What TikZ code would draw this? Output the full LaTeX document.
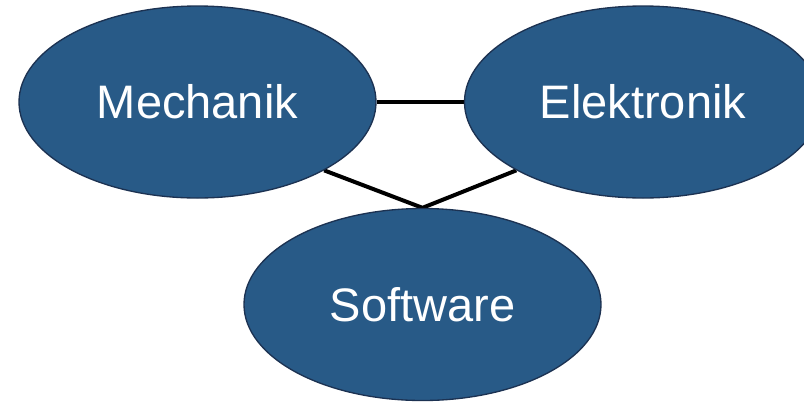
\documentclass[tikz,border=0pt]{standalone}
\usepackage{fontspec}
\setmainfont{Liberation Sans}
\usetikzlibrary{backgrounds,shapes.geometric}
\definecolor{fillblue}{RGB}{40,90,135}
\definecolor{lineblue}{RGB}{28,50,82}

\begin{document}
\begin{tikzpicture}[x=0.75pt,y=-0.75pt]
\tikzset{area/.style = {shape=ellipse,draw=lineblue,line width=1pt,fill=fillblue,
  text=white,inner sep=0pt,minimum width=267.75pt,minimum height=144pt,
  font=\fontsize{35.25}{40}\selectfont}}
\tikzset{edge/.style = {line width=3pt,line join=miter}}
\useasboundingbox (0,0) rectangle (804,401);
\clip (0,0) rectangle (804,401);
\node[area] (mech) at (197.5,102) {Mechanik};
\node[area] (elek) at (643,102) {Elektronik};
\node[area] (soft) at (422.5,304.5) {Software};

\begin{scope}[on background layer]
\draw[edge] (mech.east) to (elek.west);
\draw[edge] (mech.south east) -- (soft.north) -- (elek.south west);
\end{scope}
\end{tikzpicture}
\end{document}
